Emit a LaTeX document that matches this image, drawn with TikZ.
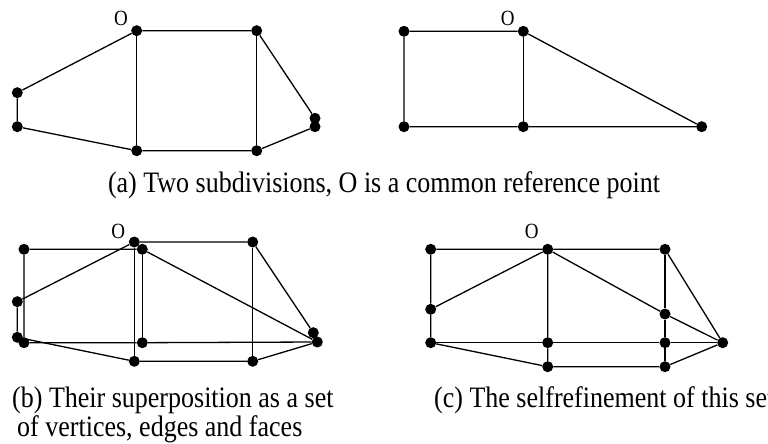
\documentclass[tikz,border=0pt]{standalone}
\usepackage{fontspec}
\setmainfont{Liberation Serif}
\usepackage{graphicx}
\usepackage{tikz}

\newcommand{\tallcap}[1]{\scalebox{1}[1.14]{#1}}

\begin{document}
\begin{tikzpicture}[x=1pt, y=-1pt,
    vtx/.style={circle, fill=black, inner sep=0pt, minimum size=11pt},
    lbl/.style={font=\fontsize{19}{22}\selectfont, inner sep=0pt},
    captext/.style={font=\fontsize{26}{29}\selectfont, inner sep=0pt},
    seg/.style={line width=1.3pt}]
    \useasboundingbox (0,0) rectangle (768,444);
    \clip (0,0) rectangle (768,444);

    % (a) first subdivision
    \node[vtx] (a1) at (17.3,92.7) {};
    \node[vtx] (a2) at (17.3,126.7) {};
    \node[vtx] (a3) at (136.7,30.7) {};
    \node[vtx] (a4) at (256.7,30.7) {};
    \node[vtx] (a5) at (315,118.3) {};
    \node[vtx] (a6) at (315,126.7) {};
    \node[vtx] (a7) at (256.7,150.7) {};
    \node[vtx] (a8) at (136.7,150.7) {};
    \node[lbl] (oa) at (121,18) {\tallcap{O}};
    \draw[seg] (a1) -- (a3) -- (a4) -- (a5) -- (a6) -- (a7) -- (a8) -- (a2) -- (a1);
    \draw[seg] (a3) -- (a8) (a4) -- (a7);

    % second subdivision
    \node[vtx] (b1) at (404,31.3) {};
    \node[vtx] (b2) at (523.3,31.3) {};
    \node[vtx] (b3) at (404,126.7) {};
    \node[vtx] (b4) at (523.3,126.7) {};
    \node[vtx] (b5) at (701.7,126.7) {};
    \node[lbl] (ob) at (507.7,18) {\tallcap{O}};
    \draw[seg] (b1) -- (b2) -- (b5) -- (b4) -- (b3) -- (b1);
    \draw[seg] (b2) -- (b4);

    \node[captext, anchor=base] (capa) at (384,192) {\tallcap{(a) Two subdivisions, O is a common reference point}};

    % (b) superposition
    \node[vtx] (c1) at (24,249.3) {};
    \node[vtx] (c2) at (134.3,242) {};
    \node[vtx] (c3) at (142.3,249.3) {};
    \node[vtx] (c4) at (252.7,242) {};
    \node[vtx] (c5) at (17.3,301.7) {};
    \node[vtx] (c6) at (17.3,337.3) {};
    \node[vtx] (c7) at (24,342.7) {};
    \node[vtx] (c8) at (142.3,342.7) {};
    \node[vtx] (c9) at (313.3,332.7) {};
    \node[vtx] (c10) at (317.3,342) {};
    \node[vtx] (c11) at (134.3,361.3) {};
    \node[vtx] (c12) at (252.7,361.3) {};
    \node[lbl] (oc) at (118.3,231) {\tallcap{O}};
    \draw[seg] (c5) -- (c2) -- (c4) -- (c9) -- (c10) -- (c12) -- (c11) -- (c6) -- (c5);
    \draw[seg] (c2) -- (c11) (c4) -- (c12);
    \draw[seg] (c1) -- (c3) -- (c10) -- (c8) -- (c7) -- (c1);
    \draw[seg] (c3) -- (c8);

    % (c) selfrefinement
    \node[vtx] (d1) at (430.7,249.3) {};
    \node[vtx] (d2) at (547.7,249.3) {};
    \node[vtx] (d3) at (665,249.3) {};
    \node[vtx] (d4) at (430.7,309.3) {};
    \node[vtx] (d5) at (430.7,342.7) {};
    \node[vtx] (d6) at (547.7,342.7) {};
    \node[vtx] (d7) at (665,314) {};
    \node[vtx] (d8) at (665,342.7) {};
    \node[vtx] (d9) at (722.7,342.7) {};
    \node[vtx] (d10) at (547.7,366.7) {};
    \node[vtx] (d11) at (665,366.7) {};
    \node[lbl] (od) at (531.7,231) {\tallcap{O}};
    \draw[seg] (d1) -- (d2) -- (d3) -- (d9) -- (d11) -- (d10) -- (d5) -- (d4) -- (d1);
    \draw[seg] (d4) -- (d2) -- (d7) -- (d9) (d2) -- (d6) -- (d10);
    \draw[seg] (d3) -- (d7) -- (d8) -- (d11);
    \draw[seg] (d5) -- (d6) -- (d8) -- (d9);

    \node[captext, anchor=base west] (capb) at (12,407) {\tallcap{(b) Their superposition as a set}};
    \node[captext, anchor=base west] (capb2) at (17,436) {\tallcap{of vertices, edges and faces}};
    \node[captext, anchor=base west] (capc) at (434,407) {\tallcap{(c) The selfrefinement of this set}};
\end{tikzpicture}
\end{document}
